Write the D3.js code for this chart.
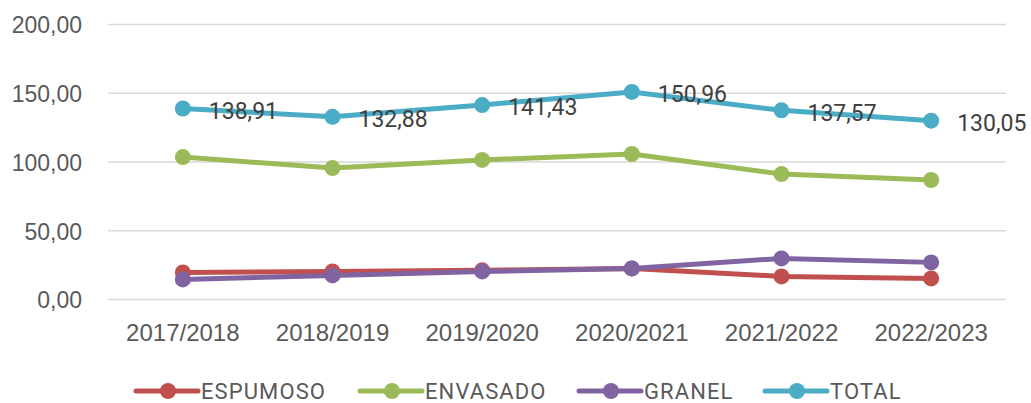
<!DOCTYPE html>
<html><head><meta charset="utf-8">
<script src="https://cdn.jsdelivr.net/npm/d3@7"></script>
<style>
html,body{margin:0;padding:0;background:#fff;}
svg{display:block;font-family:Roboto,sans-serif;}
</style></head><body>
<svg id="c" width="1031" height="403"></svg>
<script>
const categories = ["2017/2018","2018/2019","2019/2020","2020/2021","2021/2022","2022/2023"];
const espumoso = [19.7, 20.4, 21.2, 22.6, 16.8, 15.3];
const envasado = [103.6, 95.6, 101.5, 105.8, 91.2, 86.9];
const granel = [14.6, 17.5, 20.4, 22.6, 29.9, 27.0];
const total = [138.91, 132.88, 141.43, 150.96, 137.57, 130.05];
const yTicks = [0, 50, 100, 150, 200];
const seriesNames = ["ESPUMOSO","ENVASADO","GRANEL","TOTAL"];
const colors = ["#C0504D","#9BBB59","#8064A2","#4BACC6"];

(function(){
const series = [espumoso, envasado, granel, total].map((v,i)=>({name:seriesNames[i], values:v, color:colors[i]}));

const svg = d3.select("#c");
const mL = 108, mR = 1006, mT = 24.5, mB = 299.5;
const x = d3.scaleBand().domain(categories).range([mL, mR]);
const y = d3.scaleLinear().domain([0,200]).range([mB, mT]);
const fmt = v => d3.format(".2f")(v).replace(".", ",");

svg.append("g").selectAll("line").data(yTicks).join("line")
  .attr("x1", mL).attr("x2", mR)
  .attr("y1", d=>y(d)).attr("y2", d=>y(d))
  .attr("stroke", "#D9D9D9").attr("stroke-width", 1.5);

const yAxis = d3.axisLeft(y).tickValues(yTicks).tickFormat(fmt).tickSize(0).tickPadding(0);
const ya = svg.append("g").attr("transform", `translate(${mL-26},0)`).call(yAxis);
ya.select(".domain").remove();
ya.selectAll("text").attr("fill","#595959").style("font-size","23px").style("font-family","inherit").attr("dy","0.36em");

const xAxis = d3.axisBottom(x).tickSize(0).tickPadding(0);
const xa = svg.append("g").attr("transform", `translate(0,${mB+33})`).call(xAxis);
xa.select(".domain").remove();
xa.selectAll("text").attr("fill","#595959").style("font-size","24px").style("font-family","inherit").attr("dy","0.36em");

const cx = c => x(c) + x.bandwidth()/2;
const line = d3.line().x((d,i)=>cx(categories[i])).y(d=>y(d));

const g = svg.append("g");
series.forEach(s=>{
  g.append("path").attr("d", line(s.values)).attr("fill","none")
    .attr("stroke", s.color).attr("stroke-width", 5).attr("stroke-linejoin","round").attr("stroke-linecap","round");
  g.append("g").selectAll("circle").data(s.values).join("circle")
    .attr("cx",(d,i)=>cx(categories[i])).attr("cy", d=>y(d)).attr("r", 8).attr("fill", s.color);
});

svg.append("g").selectAll("text").data(total).join("text")
  .attr("x",(d,i)=>cx(categories[i]) + 26).attr("y", d=>y(d)+2)
  .attr("dy","0.36em").attr("fill","#404040").style("font-size","23px")
  .text(fmt);

const legX = [136, 360, 579, 765];
const legY = 391;
const lg = svg.append("g");
series.forEach((s,i)=>{
  const gx = legX[i];
  lg.append("line").attr("x1", gx).attr("x2", gx+62).attr("y1", legY).attr("y2", legY)
    .attr("stroke", s.color).attr("stroke-width", 5).attr("stroke-linecap","round");
  lg.append("circle").attr("cx", gx+32).attr("cy", legY).attr("r", 8).attr("fill", s.color);
  lg.append("text").attr("x", gx+65).attr("y", legY).attr("dy","0.36em")
    .attr("fill","#595959").style("font-size","22px").style("letter-spacing","1.1px").text(s.name);
});
})();
</script>
</body></html>
